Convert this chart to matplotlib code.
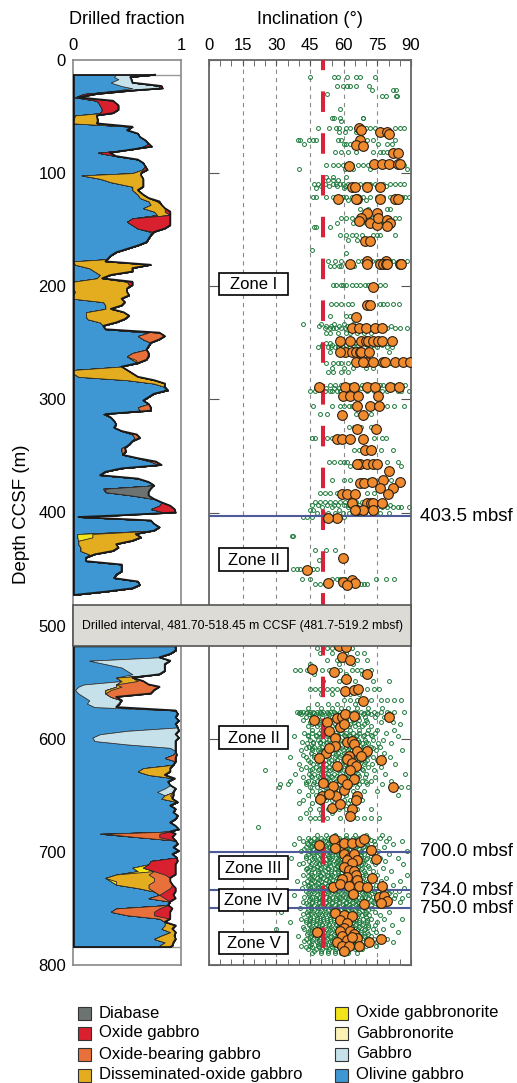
import matplotlib
matplotlib.use("Agg")
import matplotlib.pyplot as plt
from matplotlib.patches import Rectangle
import numpy as np

plt.rcParams['font.family'] = ['Liberation Sans', 'DejaVu Sans']
plt.rcParams['lines.scale_dashes'] = False

# ---------------- Lithology drilled fractions (depth m CCSF -> fraction) ----------------
olivine = {13: .40, 15: .38, 17: .42, 20: .35, 23: .45, 25: .55, 27: .40, 30: .10, 33: .02, 36: .22,
           40: .25, 44: .27, 47: .25, 49: .02, 54: 0, 56: 0, 59: .55, 62: .50, 65: .60, 68: .62,
           71: .67, 74: .70, 76.5: .65, 79: .55, 82: .23, 85: .40, 88: .60, 91: .65, 94: .67, 97: .64,
           100: .55, 102: .08, 105: .25, 108: .35, 112: .55, 115: .55, 119: .60, 122: .62, 125: .70,
           128: .72, 131: .65, 134: .75, 137: .78, 140: .55, 143: .50, 146: .55, 149: .60, 152: .72,
           155: .72, 158: .70, 161: .68, 164: .60, 167: .50, 170: .40, 173: .35, 176: .32, 178: 0,
           181: .02, 184: .15, 187: .20, 190: .25, 193: .22, 196: 0, 199: 0, 202: 0, 205: .02, 208: 0,
           211: 0, 214: .28, 217: .30, 220: .30, 223: .12, 226: .12, 229: .13, 232: .25, 235: .28,
           238: .30, 241: .70, 244: .60, 247: .65, 250: .72, 253: .70, 256: .68, 259: .55, 262: .50,
           265: .55, 268: .60, 271: .45, 274: 0, 277: 0, 280: .05, 283: .50, 286: .75, 289: .85,
           292: .85, 295: .75, 298: .70, 301: .65, 304: .70, 307: .60, 310: .62, 313: .28, 316: .35,
           319: .38, 322: .40, 325: .38, 328: .45, 331: .55, 334: .57, 337: .55, 340: .52, 343: .45,
           346: .45, 349: .46, 352: .60, 355: .72, 358: .80, 361: .45, 364: .30, 367: .25, 370: .60,
           373: .70, 376: .75, 379: .28, 382: .30, 385: .55, 388: .75, 391: .82, 394: .80, 397: .72,
           400: .85, 402.5: .40, 404: .05, 407: .72, 410: .75, 413: .80, 416: .75, 419: .04, 422: .04,
           425: .05, 428: .05, 431: .07, 434: .07, 437: .15, 440: .12, 443: .12, 446: .45, 449: .45,
           452: .45, 455: .40, 458: .38, 461: .60, 464: .62, 467: .55, 470: .30, 473: 0,
           518.45: .95, 522: .95, 525: .90, 528: .80, 531: .15, 534: .30, 537: .45, 540: .50, 543: .55,
           546: .40, 549: .45, 552: .10, 554: .05, 557: .02, 560: .05, 563: .10, 566: .15, 569: .13,
           572: .20, 575: .95, 578: .97, 581: .95, 584: .98, 587: .95, 590: .97, 593: .50, 596: .25,
           599: .18, 602: .20, 605: .50, 608: .90, 611: .95, 614: .93, 617: .85, 620: .95, 623: .93,
           626: .65, 629: .60, 632: .70, 635: .94, 638: .88, 641: .90, 644: .85, 647: .78, 650: .85,
           653: .82, 656: .97, 659: .90, 662: .95, 665: .93, 668: .97, 671: .95, 674: .90, 677: .95,
           680: .98, 682: .90, 684: .25, 687: .60, 690: .95, 693: .97, 696: .93, 699: .98, 702: .92,
           705: .96, 708: .72, 711: .70, 714: .55, 717: .60, 720: .40, 723: .30, 726: .35, 729: .40,
           732: .60, 735: .75, 738: .80, 741: .70, 744: .90, 747: .88, 750: .40, 753: .35, 756: .50,
           759: .80, 762: .85, 765: .85, 768: .82, 771: .90, 774: .82, 777: .75, 780: .85, 783: .80,
           784: .80}
gabbro = {13: .36, 15: .15, 17: .12, 20: .20, 23: .35, 25: .25, 27: .05,
          531: .75, 534: .55, 537: .40, 540: .35, 543: .25, 552: .30, 554: .35, 557: .28, 560: .25,
          563: .25, 566: .30, 569: .30, 572: .20, 593: .48, 596: .70, 599: .80, 602: .75, 605: .45,
          608: .05, 644: .10, 647: .15}
oxide_gabbronorite = {419: .14, 422: .14, 714: .10, 717: .15, 726: .05}
disseminated = {49: .20, 54: .23, 56: .22, 100: .08, 102: .55, 105: .40, 108: .30, 112: .10, 115: .05,
                119: .05, 122: .08, 125: .08, 128: .10, 131: .20, 134: .10, 137: .12, 152: .03, 178: .30,
                181: .70, 184: .40, 187: .35, 190: .10, 193: .05, 196: .50, 199: .52, 202: .50, 205: .48,
                208: .52, 211: .45, 214: .20, 217: .15, 220: .05, 223: .35, 226: .40, 229: .35, 232: .15,
                265: .03, 274: .50, 277: .55, 280: .55, 283: .25, 286: .10, 292: .03, 419: .40, 422: .45,
                425: .50, 428: .35, 431: .35, 434: .30, 437: .05,
                546: .15, 549: .15, 554: .05, 557: .05, 626: .25, 629: .30, 632: .15, 650: .05, 653: .10,
                684: .05, 720: .30, 723: .45, 726: .35, 729: .30, 732: .10, 765: .10, 768: .10, 771: .05,
                774: .12, 777: .20, 780: .08, 783: .12, 784: .10}
oxide_bearing = {241: .10, 244: .25, 247: .15, 259: .15, 262: .20, 265: .10, 307: .12, 310: .10, 331: .04,
                 334: .05, 343: .03, 346: .04, 355: .05, 379: .02,
                 549: .05, 552: .30, 554: .35, 557: .40, 560: .42, 563: .05, 614: .03, 617: .10, 650: .03,
                 684: .50, 687: .20, 720: .15, 723: .15, 726: .15, 729: .22, 732: .20, 735: .10, 741: .15,
                 750: .40, 753: .40, 756: .25, 759: .10}
oxide_gabbro = {23: .02, 25: .03, 27: .10, 30: .12, 33: .03, 36: .15, 40: .17, 44: .15, 47: .12, 76.5: .08,
                82: .11, 97: .05, 125: .02, 134: .05, 140: .35, 143: .40, 146: .35, 149: .25, 196: .05,
                199: .03, 313: .02, 394: .10, 397: .22, 400: .10, 402.5: .03,
                684: .15, 687: .12, 708: .25, 711: .25, 714: .30, 717: .20, 720: .10, 732: .05, 735: .10,
                738: .13, 741: .10, 750: .12, 753: .15, 756: .15}
diabase = {358: .02, 379: .42, 382: .40, 385: .15}
gabbronorite = {}

hole_segments = [(13, 473), (518.45, 784)]

# ---------------- Paleomagnetic inclinations ----------------
green_row_depth = [15, 23, 26.5, 30, 32, 43, 51, 54, 60, 64, 71, 74, 81, 93, 96, 103, 106, 110, 111.5, 113, 121,
                   124, 132, 140, 144, 148, 155, 159, 168, 171, 178, 182, 199, 216, 226, 233, 235, 237, 241,
                   250, 252, 254, 258, 268, 272, 276, 287, 290, 293, 306, 313, 324, 334, 345, 355, 359, 371,
                   383, 391, 393, 395, 398, 400, 404, 421, 433, 442, 450, 459, 463,
                   520, 524, 530, 534, 539, 543, 549, 556, 560, 566, 569, 573, 576, 577.5, 578, 581, 583, 585,
                   587, 589, 592, 595, 596.5, 598, 601, 602.5, 604, 607, 608.5, 610, 613, 614.5, 616, 619,
                   620.5, 622, 625, 626.5, 628, 631, 632.5, 634, 637, 638.5, 640, 643, 646,
                   650, 654, 657, 662, 666, 670, 678, 685, 688, 689.5, 690, 692, 693, 694.5, 696, 697.5, 699,
                   700.5, 702, 703.5, 705, 706.5, 708, 709.5, 711, 712.5, 714, 715.5, 717, 718.5, 720, 721.5,
                   723, 724.5, 726, 727.5, 729, 730.5, 732, 733.5, 735, 736.5, 738, 739.5, 741, 742.5, 744,
                   745.5, 747, 748.5, 750, 751.5, 753, 754.5, 756, 757.5, 759, 760.5, 762, 763.5, 765, 766.5,
                   768, 769.5, 771, 772.5, 774, 775.5, 777, 778.5, 780, 781.5, 783, 784.5, 786, 787.5, 789]
green_row_incl = [
    [45, 55.5, 57.5, 61.5, 65.7, 67.2, 73.8], [57, 59.7, 61.5, 62.7, 65.3, 71.3], [72.8, 82.2, 83.3], [52.5],
    [77.3, 78.8, 83.3, 83.7], [58.5], [55.5, 68.7, 54.8, 58.2, 68.4], [59],
    [48.5, 53.4, 56.4, 57.9, 61.2, 62.7, 69.9, 71.7, 73.9, 83, 85.2, 86.7], [65.4, 58, 60.5],
    [39.5, 40.5, 44.7, 46.2, 47.7, 57.5, 59, 70.5, 73.2, 83], [42.5, 60, 61.2, 63, 75.5, 79.2, 81.5],
    [56, 59, 62, 65.7, 73.2, 76.2, 77.7, 79.2, 85.2],
    [52.2, 55.2, 57.5, 59.7, 61.2, 63.5, 66.5, 68.7, 71, 75.5, 79.2, 83.7, 86.7], [39.9, 71.7, 88.2, 60.5, 64],
    [52.2, 55.2, 61.2], [57.5, 55.2, 53],
    [47, 48.5, 51.5, 55.2, 56.7, 58.2, 59.7, 62, 67.2, 69.5, 71.7, 73.9, 77.7, 80.7, 83, 85.2, 86.7],
    [50, 53.5, 57, 60.5, 64, 66, 70.5, 75, 79],
    [47.7, 65.7, 60, 64],
    [46.2, 47.7, 52.2, 55.2, 59.7, 61.2, 63.5, 68.7, 71.7, 74.7, 77.7, 80.7, 86, 87.5, 89], [58, 62, 66, 70],
    [67.2, 71, 79.2, 80.7], [59, 61.2, 63.5, 66.5, 68.7, 73.2, 75.5, 76.2, 80, 83, 84.5], [57, 64, 70, 78],
    [47, 47.7, 53.7], [58.2, 61.2, 63.5, 65.7, 68, 73.2, 74.7, 76.2, 83], [62, 66, 70], [45.9], [61.2],
    [53, 56, 59, 66.5, 68, 72.5, 74.7, 80.7, 82.2, 86, 88.2], [54, 55.5, 57.8, 59, 62, 64.5, 70],
    [55.2, 56.7, 59, 59.7, 61.2, 63.5, 65.7, 67.2, 69.5, 71, 76.2, 78.5],
    [54.5, 56.7, 59, 62, 63.5, 76.2, 77.7, 79.2, 82.2, 84.5], [53.7, 61.2, 62.7], [41.7, 50, 55.9, 60, 64],
    [49, 52, 54.5, 58, 61.5, 64, 67.5, 70, 74, 77.5, 81],
    [51.5, 53.7, 55.2, 56.7, 59, 60.5, 62.7, 65.7, 68.7, 71, 73.2, 76.2, 79.2, 83, 85.2, 88.2],
    [52.2, 53.7, 57.5, 61, 63, 66, 69, 72], [52.2, 53.7, 65, 67.2, 69.5],
    [50.5, 55, 58.5, 61, 64, 66.5, 70.5, 73.5, 77],
    [48.5, 53, 54.5, 56, 57.5, 59.7, 62.7, 71.7, 74.7, 79.2, 81.5], [53.7, 59, 61.2, 68.7, 80.4, 64, 66],
    [52.2, 55.2, 57.5, 59, 62, 67.2, 70.2, 75.5, 80.7, 85.2, 88.2], [55, 60, 64, 70, 73], [53, 55.2, 59, 62],
    [50, 53.7, 56, 59, 62.7, 65.7, 68, 71.7, 76.2, 77.7, 82.2, 87.5],
    [47.5, 52, 55.5, 58, 61, 64, 67.5, 69.5, 72, 75.5, 80.5, 83],
    [45, 47.3, 50.3, 51.8, 54, 54.8, 57, 58.5, 62.3, 66, 70.5, 73.5, 77.3, 79.5, 84, 85.5, 89.3],
    [46.5, 54.8, 58.5, 60, 62.3, 63.8, 77.3, 79.5, 82.5, 87], [49.5, 52.5, 65.3, 67.5, 72], [62.3, 64.5, 67.5, 72],
    [45.8, 47.3, 52.5, 54.8, 56.3, 73.5, 77.3, 78.8], [64.5, 66.8, 70.5, 73.5, 76.5, 81.8],
    [53.3, 55.5, 58.5, 61.5, 79.5, 84, 60], [66, 85.5, 63, 70],
    [54.8, 60, 63, 68.3, 71.3, 73.5, 76.5, 81, 85.5], [49.5, 51.8, 54, 57, 61.5, 66, 70.5, 73.5, 78.8],
    [47.3, 49.5, 51.8, 54, 56.3, 58.5, 60.8, 63, 65.3, 68.3, 70.5, 72.8],
    [46, 48.5, 52.5, 55.5, 57.5, 60, 62, 64, 67, 69.5, 71.5, 74, 76.5, 78.5, 80.5],
    [75, 77.3, 79.5, 81.8, 84, 85.5, 89.3, 50.3, 54.8, 62, 66, 69], [45, 46.5, 58, 64, 71, 74],
    [48, 51, 53, 56, 59.5, 62.5, 67, 69.5, 72.5, 76, 80],
    [42, 43.5, 45.8, 55, 60], [36.8, 37.5], [47.3, 52.2, 56.3], [48.8], [37.5, 39, 40.5, 45, 46.5, 48],
    [41.3, 45, 54.8, 57, 58.5, 60.8, 74.3, 78.8, 82.5], [47.3, 49.5, 51.8, 64.5, 66, 67.5, 69, 70.5, 62],
    # lower hole
    [48, 52.5, 54.8, 57, 60, 63.8], [49.5, 66, 69, 55, 61], [57, 61.5, 66, 52.5, 70.5, 63], [45, 58, 64],
    [38.3, 40.5, 43.5, 45.8, 50.3, 53.3, 55.5, 58.5, 63.8, 66, 67.5, 72], [47, 56, 61, 68],
    [51, 58, 62, 65, 73, 80], [45, 47.3, 49.5, 52.5, 54.8, 57, 73.5, 75.8, 70.5], [50, 55, 60, 63, 67],
    [60, 63, 66, 69, 72, 76.5, 79.5, 82.5, 85.5], [48, 53, 57, 65], [44, 50, 55, 59, 62, 66, 71, 77],
    [39, 40.5, 42, 43.5, 45, 46.5, 48, 49.5, 51, 52.5, 54, 55.5, 58.5, 61.5, 64.5, 67.5, 70.5, 73.5, 76.5, 79.5, 82.5, 87],
    [40, 43, 47, 50, 53, 56, 60, 63, 66, 69, 71, 80],
    [41, 44.5, 47.5, 50.5, 53.5, 56.5, 59.5, 62.5, 65.5, 68.5, 72, 75],
    [43, 46, 48.5, 52, 55, 57.5, 60.5, 63.5, 66.5, 69.5, 74, 78],
    [42, 45.5, 49, 51.5, 54.5, 58, 61, 64, 67, 70],
    [45, 47.3, 49.5, 53.3, 58.5, 64.5, 70.5, 76.5, 81.8],
    [46, 49, 52.5, 56, 59.5, 63, 66.5, 69, 85],
    [44, 48, 51.5, 55, 57, 60, 62.5, 65, 68, 72],
    [82.5, 46, 50, 54, 59, 63, 67, 71, 75],
    [42.5, 46, 49, 51.5, 54, 56.5, 59, 61, 64, 67, 70.5, 74, 79],
    [44, 47.5, 50.5, 53, 57.5, 60, 62.5, 66, 69, 72],
    [38, 44, 47.5, 50, 52.5, 55, 57.5, 60.5, 63, 65.5, 68.5, 72.5, 84],
    [45, 48.5, 51, 53.5, 56, 58.5, 61.5, 64, 66.5, 69.5, 73, 77.5],
    [41.5, 46.5, 49.5, 52.5, 55.5, 58, 61, 63.5, 67, 70],
    [33, 43.5, 46.5, 49.5, 52, 54.5, 57, 60, 62.5, 65, 68, 71, 75.5, 81],
    [44.5, 47, 50.5, 53, 55.5, 58, 61, 63.5, 66, 69, 72, 76],
    [43, 46, 49, 52, 55, 59, 62.5, 65, 68, 73],
    [41, 46, 48.5, 51, 54, 56.5, 59.5, 62, 64.5, 67.5, 70, 74.5, 86],
    [45.5, 49, 52.5, 55, 57.5, 60, 63, 65.5, 68, 71.5, 78],
    [42, 47, 50, 53, 56.5, 59, 62, 64, 67, 71],
    [36, 43, 47, 50, 53.5, 56, 58.5, 61.5, 64, 66.5, 69.5, 73, 80.5],
    [44, 48, 51.5, 54.5, 57, 59.5, 62.5, 65, 67.5, 70.5, 75],
    [45, 48.5, 51, 53.5, 56, 60, 63, 66.5, 69.5],
    [40, 46.5, 49.5, 52, 55, 58, 60.5, 63.5, 66, 69, 72.5, 83],
    [43, 47.5, 50.5, 53.5, 56.5, 59, 61.5, 64.5, 67, 71, 76.5],
    [41, 46, 49, 52, 55, 58.5, 62, 64.5, 68],
    [24.8, 45, 48.5, 51.5, 54, 57.5, 60, 62.5, 65.5, 68.5, 73.5],
    [38.5, 44.5, 47, 50, 53, 55.5, 58.5, 61, 64, 66.5, 70, 78.5, 87.5],
    [45.5, 48.5, 52, 54.5, 57, 60, 63.5, 67],
    [42, 46, 49.5, 52.5, 55, 58, 60.5, 63, 66, 69.5, 74],
    [36, 44, 48, 51, 54, 56.5, 59.5, 62, 65, 68, 72, 81],
    [43, 47, 50.5, 53, 56, 59, 62, 65.5, 70],
    [31.5, 35.3, 43, 46.5, 50, 52.5, 55.5, 58, 61, 63.5, 67, 70.5, 77],
    [31.2, 45, 48, 51.5, 54.5, 57, 60, 62.5, 66, 85.5, 88.5],
    [40, 46, 49.5, 52, 56, 59, 64, 69, 75], [44, 47.5, 50.5, 54, 57.5, 61, 65, 84],
    [42, 48, 52, 55, 60, 63, 68], [40.2, 46, 50, 57, 62], [45, 49, 53, 58, 61, 66, 72], [43, 50, 55, 63],
    [40.5, 45, 47.3, 48.8, 52.5, 58.5, 66, 69, 72, 75.8], [21.8], [48, 52, 56, 61, 65, 70, 77],
    [40, 44, 47, 50, 53, 55.5, 58, 61, 64, 67, 71, 76, 80],
    [45, 48, 51, 53.5, 56, 59, 62, 65, 68, 72],
    [42, 45.5, 48.5, 51.5, 54.5, 57.5, 60.5, 63.5, 66.5, 69.5, 73.5, 79, 86],
    [43.5, 47, 50, 53, 55.5, 58, 61, 63.5, 66, 70],
    [38, 44, 46.5, 49.5, 52.5, 55, 58.5, 61.5, 64.5, 67, 70.5, 74, 82],
    [46, 49.5, 52, 55, 57.5, 60, 63, 66, 69],
    [43, 45.5, 48, 51, 54, 56.5, 59.5, 62, 65, 68.5, 72, 78],
    [42.5, 46.5, 49, 52.5, 55.5, 58, 61, 64, 67, 71],
    [41, 44.5, 47.5, 50, 53, 56, 58.5, 61.5, 64, 67.5, 71, 75.5, 88],
    [45.5, 48, 51, 54, 56.5, 59.5, 62, 65, 68],
    [44, 46.5, 49.5, 52.5, 55, 57.5, 60.5, 63, 66, 69, 73, 80],
    [43, 47, 50, 53, 55, 58, 61.5, 64.5, 67.5, 72],
    [36.5, 43, 47, 50.5, 53.5, 56.5, 59, 62, 64.5, 67.5, 70.5, 76, 84],
    [46, 49, 52, 54.5, 57.5, 60.5, 63, 66, 70],
    [44.5, 48, 51, 54, 57, 59.5, 62.5, 65.5, 68, 72.5, 78.5],
    [42, 47.5, 50.5, 53.5, 56.5, 59, 62, 65, 68.5],
    [40, 45.5, 49, 52, 55.5, 58, 61, 63.5, 66.5, 69.5, 74, 86.5],
    [45, 48, 51.5, 54, 57, 60, 63.5, 66.5, 71],
    [31, 43.5, 47, 50, 53, 56, 59, 62, 65, 68, 71.5, 77.5],
    [43, 46.5, 49.5, 53, 56, 58.5, 61.5, 64.5, 67.5],
    [44, 48.5, 51.5, 54.5, 57.5, 60, 63, 66, 69, 73, 81],
    [45.5, 48.5, 51, 54.5, 57.5, 60.5, 63, 66, 69.5],
    [42, 46, 49.5, 52.5, 55, 58, 61, 64, 67, 70, 75, 88],
    [44, 47, 50, 53, 55.5, 58.5, 62, 65, 68, 73],
    [45, 48, 51, 54, 57, 59.5, 62.5, 65.5, 68.5, 72, 79],
    [46, 49, 52, 55, 58, 61, 64, 67],
    [39, 43.5, 47, 50, 53.5, 56.5, 59, 62, 65, 68, 71, 76.5, 85],
    [42.5, 45.5, 48.5, 51.5, 54.5, 57.5, 60, 63, 66, 69.5],
    [44.5, 47.5, 50.5, 53, 56, 58.5, 61.5, 64.5, 67.5, 70.5, 74.5, 82],
    [44, 47, 50, 53, 56, 59, 62, 65, 68, 71, 76],
    [41.5, 45, 48.5, 51.5, 54.5, 57.5, 60.5, 63, 66, 69, 72.5, 78, 87],
    [45.5, 48.5, 51.5, 54, 57, 60, 63, 66, 69, 72, 79],
    [43, 46.5, 49.5, 52.5, 55.5, 58, 61, 64, 67, 70, 73.5, 77, 81, 84.5],
    [44, 47, 50, 53, 56, 59, 62, 65, 68, 71, 74, 80],
    [38, 44.5, 48, 51, 54, 57, 59.5, 62.5, 65.5, 68.5, 71.5, 75, 79, 83, 88.5],
    [42.5, 46, 49, 52, 55, 58, 60.5, 63.5, 66.5, 69.5, 73, 77],
    [45, 47.5, 50.5, 53.5, 56.5, 59, 62, 65, 68, 71, 74.5, 78.5, 82.5, 86],
    [44.5, 47.5, 50.5, 53.5, 56.5, 59.5, 62.5, 65.5, 68.5, 72, 75.5],
    [42, 46, 49, 52, 55, 58, 61, 63.5, 66.5, 69.5, 73, 76.5, 80, 85],
    [43, 46, 49, 52, 55, 58, 61, 64, 67, 70, 74, 78],
    [44, 47, 50, 53, 56, 59.5, 62.5, 65.5, 68.5, 72, 75.5, 79],
    [45, 48, 51, 54, 57, 60, 63, 66, 69],
    [40.5, 45.5, 48.5, 51.5, 54.5, 57, 60, 63, 66, 69, 72.5],
    [44, 47, 50, 53, 56, 59, 62, 65, 68, 71],
    [32, 43.5, 46.5, 49.5, 52, 55, 58, 61, 64, 67, 70, 74, 80],
    [42, 45.5, 48.5, 51.5, 54.5, 57.5, 60.5, 63.5, 66.5, 69.5],
    [44, 47.5, 50.5, 53.5, 56, 59, 62, 65, 68, 71.5, 76],
    [45, 48, 51, 54, 57, 60, 63, 66, 70],
    [41, 45, 48, 51, 54, 57, 59.5, 62.5, 65.5, 68.5, 72, 78, 86],
    [43, 46.5, 49.5, 52.5, 55.5, 58.5, 61, 64, 67, 70.5],
    [36, 43, 46.5, 49.5, 52.5, 55.5, 58.5, 61.5, 64, 67, 70.5, 75],
    [44.5, 47.5, 50.5, 53.5, 56.5, 59.5, 62.5, 65.5, 68.5],
    [44.5, 47.5, 50.5, 53.5, 56.5, 59, 62, 65, 68, 71, 74, 81.5],
    [42, 45.5, 48.5, 51.5, 54.5, 57.5, 60.5, 63.5, 67, 71],
    [30, 42.5, 46, 49, 52, 55, 57.5, 60.5, 63.5, 66.5, 69.5, 73, 77.5],
    [45, 48, 51, 54, 57, 60, 63, 66, 69],
    [44, 47, 50, 53, 56, 59, 62, 64.5, 67.5, 70.5, 74.5, 84],
    [43.5, 46.5, 49.5, 52.5, 55.5, 58.5, 61.5, 64.5, 67.5, 71],
    [39.5, 45.5, 48.5, 51.5, 54.5, 57.5, 60.5, 63, 66, 69, 72, 76],
    [45, 48, 51, 54, 57, 60, 63, 66, 69.5],
    [33.5, 43, 46.5, 49.5, 52.5, 55.5, 58, 61, 64, 67, 70, 73.5, 79.5],
    [42.5, 46, 49, 52, 55, 58, 61, 64, 67, 70.5],
    [44.5, 48, 51, 54, 57, 60, 62.5, 65.5, 68.5, 71.5, 75, 82],
    [45.5, 48.5, 51.5, 54.5, 57.5, 60.5, 63.5, 66.5],
    [41, 45, 48.5, 51.5, 54.5, 57.5, 60.5, 63.5, 66.5, 70, 74.5],
    [43, 46, 49, 52, 55, 58, 61, 64],
    [44, 47.5, 50.5, 53.5, 56.5, 59, 62, 65, 68],
    [47, 50, 53, 56, 59, 62],
    [46, 50, 53, 56, 59, 62, 66]]

orange_depth = [60, 62, 64, 64, 65, 71, 75, 76, 82, 82, 94, 92, 92, 92, 92, 92, 112, 112, 112, 112,
                123, 123, 123, 123, 123, 123, 135, 135, 140, 142, 144, 146, 140, 141, 144, 147, 160, 160,
                178, 178, 180, 180, 180, 180, 180, 180, 180, 180, 201, 217, 217, 227, 237, 237, 237, 237, 237,
                248, 248, 248, 248, 248, 248, 248, 248, 248, 258, 258, 258, 258, 258, 258, 258,
                267, 267, 267, 267, 267, 267, 267, 267, 267, 289, 289, 289, 289, 289, 289, 289,
                297, 297, 297, 297, 306, 306, 306, 314, 314, 326, 326, 335, 335, 335, 335, 345, 345,
                357, 357, 357, 357, 357, 357, 363, 371, 373, 374, 374, 373, 378, 378, 384, 384, 384, 384,
                392, 392, 392, 392, 392, 398, 398, 398, 398, 405, 405, 440, 451, 462, 461, 460, 462, 464,
                518, 519, 528, 530, 538, 541, 547, 543, 558, 557, 556, 567, 583, 585, 582, 581, 578, 580,
                590, 587, 581, 593, 599, 606, 613, 617, 608, 603, 602, 605, 611, 611, 615, 615, 624, 619,
                618, 621, 624, 628, 636, 636, 639, 642, 645, 651, 651, 651, 643, 649, 653, 661, 658, 662,
                654, 640, 668, 694, 689, 695, 692, 692, 691, 689, 698, 697, 702, 705, 702, 707, 707, 706,
                710, 713, 716, 717, 720, 722, 724, 725, 723, 731, 728, 730, 730, 731, 730, 737, 746, 740,
                739, 743, 745, 754, 756, 757, 760, 763, 767, 770, 770, 773, 771, 774, 778, 776, 780, 783,
                783, 783, 780, 777, 788, 775]
orange_incl = [66.9, 67.7, 76.2, 79.5, 80.4, 67.2, 65.4, 68.4, 81.9, 84, 62.4, 73.5, 77, 80, 84, 85.2, 63.9,
               64.9, 70.2, 76.2, 57.5, 66, 65.7, 76.2, 83, 84, 70.5, 74.7, 67.7, 66.9, 71.7, 74.7, 75.5,
               79.2, 80.7, 79.5, 69.5, 71.7, 70.2, 78.9, 62.7, 70.5, 76.2, 77.7, 78.9, 79.5, 84.9, 85.5, 73.2,
               70.5, 71.7, 65.7, 63.5, 66.8, 69.9, 73.9, 76.9, 63, 67.9, 69.9, 70.9, 73.2, 75.5, 81.5, 77,
               58.2, 60.4, 58.2, 63.5, 65.7, 67.2, 67.9, 71.4, 65.7, 69.9, 68.7, 73.2, 77.7, 78.5, 83, 86.4,
               89.7, 60.4, 64.5, 70.5, 73.9, 80.7, 84.5, 49.2, 59.8, 62.9, 66.4, 75.3, 66, 71.7, 75.8, 59.3,
               68.6, 66, 74.4, 57, 59.3, 62.9, 68.6, 69.5, 72.2, 66.4, 67.3, 70.4, 73.1, 74.9, 66, 80.2,
               77.5, 85.1, 67.3, 69.1, 72.6, 76.2, 82, 79.8, 59.3, 61.5, 65.1, 63.7, 70.4, 72.2, 73.1, 77.1,
               66, 68.6, 73.1, 65.1, 57, 53, 59.7, 43.6, 53, 59.7, 63.7, 65, 61.5,
               57.8, 61.2, 59.3, 63, 45.8, 55.5, 61, 70.5, 60.8, 64.5, 66.3, 68.6, 47, 52.5, 57, 59.3, 60.8,
               64.5, 58.2, 60, 80.3, 53.3, 56, 56.3, 52.2, 49.2, 53.3, 61.5, 63.8, 64.5, 66, 70.5, 67.5,
               62.3, 57, 76.5, 61.5, 63.8, 65.3, 63, 59.3, 64.5, 51, 55.2, 60, 66, 56.7, 50.3, 81.8, 53.3,
               49.5, 54.8, 58.5, 63.8, 65.3, 61.5, 62.7, 48.8, 55.5, 58.5, 60, 63.8, 67.2, 69, 72, 56.3, 60,
               62.3, 64.5, 66, 61.5, 74.3, 63.8, 60, 62.3, 64.5, 65.3, 61.5, 59.3, 66, 72.8, 55.2, 58.5,
               62.3, 66.8, 70.5, 77.3, 64.2, 69, 75.8, 78, 79.5, 76.5, 56.3, 60, 63.8, 58.5, 61.5, 60, 58.2,
               63, 64.5, 48, 59.3, 61.5, 66, 57, 59.3, 62.3, 66.8, 71.3, 76.5, 60, 63.8]

mean_inclination = 50.8
boundary_depths = [403.5, 700.0, 734.0, 750.0]
boundary_labels = ["403.5 mbsf", "700.0 mbsf", "734.0 mbsf", "750.0 mbsf"]
zone_names = ["Zone I", "Zone II", "Zone II", "Zone III", "Zone IV", "Zone V"]
zone_depths = [198, 441.5, 599, 714, 742.5, 780.5]
gap_top, gap_bottom = 481.70, 518.45
gap_text = "Drilled interval, 481.70-518.45 m CCSF (481.7-519.2 mbsf)"

lith_names = ["Olivine gabbro", "Gabbro", "Oxide gabbronorite", "Disseminated-oxide gabbro",
              "Oxide-bearing gabbro", "Oxide gabbro", "Diabase", "Gabbronorite"]
lith_data = [olivine, gabbro, oxide_gabbronorite, disseminated, oxide_bearing, oxide_gabbro, diabase, gabbronorite]
lith_colors = {"Diabase": "#6d7371", "Oxide gabbro": "#d8202f", "Oxide-bearing gabbro": "#e8703a",
               "Disseminated-oxide gabbro": "#e3ad1f", "Oxide gabbronorite": "#f2e31b",
               "Gabbronorite": "#fbf3b6", "Gabbro": "#c6e1e9", "Olivine gabbro": "#3e96d2"}
legend_col1 = ["Diabase", "Oxide gabbro", "Oxide-bearing gabbro", "Disseminated-oxide gabbro"]
legend_col2 = ["Oxide gabbronorite", "Gabbronorite", "Gabbro", "Olivine gabbro"]

# ---------------- Figure ----------------
W, H = 517, 1083
fig = plt.figure(figsize=(W / 100, H / 100), dpi=100)

def fx(px):
    return px / W

def fy(py):
    return 1 - py / H

ax_top, ax_bot = 60, 965
ax1 = fig.add_axes([fx(73), fy(ax_bot), fx(181) - fx(73), (ax_bot - ax_top) / H])
ax2 = fig.add_axes([fx(209), fy(ax_bot), fx(411) - fx(209), (ax_bot - ax_top) / H])

# ---- left panel: stacked fractions ----
all_depths = sorted(set().union(*[set(d.keys()) for d in lith_data]))
for (d0, d1) in hole_segments:
    dep = np.array([d for d in all_depths if d0 <= d <= d1])
    cum = np.zeros(len(dep))
    for name, data in zip(lith_names, lith_data):
        vals = np.array([data.get(d, 0.0) for d in dep])
        if vals.sum() > 0:
            ax1.fill_betweenx(dep, cum, cum + vals, facecolor=lith_colors[name],
                              edgecolor='#2a2a2a', linewidth=0.5, zorder=2)
        cum = cum + vals
    ax1.plot(cum, dep, color='#1a1a1a', lw=1.3, zorder=3)
    ax1.plot([0, 0], [dep[0], dep[-1]], color='#111', lw=2.6, zorder=4, solid_capstyle='butt')
    ax1.plot([0, cum[0]], [dep[0], dep[0]], color='#1a1a1a', lw=1.3, zorder=3)
    ax1.plot([0, cum[-1]], [dep[-1], dep[-1]], color='#1a1a1a', lw=1.3, zorder=3)
for d in (hole_segments[0][0], hole_segments[-1][1]):
    ax1.axhline(d, color='#999', lw=1.0, zorder=1)

ax1.set_xlim(0, 1)
ax1.set_ylim(800, 0)
ax1.set_xticks([0, 1])
ax1.set_xticklabels(['0', '1'])
ax1.xaxis.tick_top()
ax1.tick_params(axis='x', length=0, pad=5, labelsize=12)
ax1.set_yticks(range(0, 801, 100))
ax1.tick_params(axis='y', length=0, pad=5, labelsize=12)
for s in ax1.spines.values():
    s.set_color('#888')
    s.set_linewidth(1.2)

# ---- right panel: inclinations ----
ax2.set_xlim(0, 90)
ax2.set_ylim(800, 0)
for g in (15, 30, 45, 60, 75):
    ax2.axvline(g, color='#8a8a8a', lw=0.8, ls=(0, (3, 3)), zorder=1)

gd, gi = [], []
for d, row in zip(green_row_depth, green_row_incl):
    gd.extend([d] * len(row))
    gi.extend(row)
ax2.plot(gi, gd, 'o', ms=2.8, mfc='none', mec='#1d7a3c', mew=0.7, zorder=2)

ax2.plot([mean_inclination, mean_inclination], [0, 800], color='#d9223c', lw=2.9,
         ls=(7.5, (14.8, 15.3)), solid_capstyle='butt', dash_capstyle='butt', zorder=3)

for d in boundary_depths:
    ax2.axhline(d, color='#4d5b98', lw=1.5, zorder=3.5)

ax2.plot(orange_incl, orange_depth, 'o', ms=7, mfc='#ef8a2f', mec='#2a1f14', mew=0.8, zorder=4)

for name, d in zip(zone_names, zone_depths):
    ax2.add_patch(Rectangle((4.5, d - 10), 30.7, 20, facecolor='white', edgecolor='black',
                            lw=1.2, zorder=6))
    ax2.text(19.85, d + 0.5, name, ha='center', va='center', fontsize=12, zorder=7)

for d, lab in zip(boundary_depths, boundary_labels):
    ax2.text(1.045, d, lab, transform=ax2.get_yaxis_transform(), ha='left', va='center', fontsize=13.5)

ax2.set_xticks(range(0, 91, 15))
ax2.set_xticks(range(0, 91, 5), minor=True)
ax2.xaxis.tick_top()
ax2.tick_params(axis='x', which='both', direction='in', length=4, top=True, bottom=True,
                color='#555', labelsize=12, pad=5)
ax2.set_yticks(range(0, 801, 100))
ax2.set_yticklabels([])
ax2.tick_params(axis='y', direction='in', length=7, left=True, right=True, color='#555')
for s in ax2.spines.values():
    s.set_color('#666')
    s.set_linewidth(1.3)

# ---- drilled interval gap box ----
gy0 = ax_top + gap_top * (ax_bot - ax_top) / 800
gy1 = ax_top + gap_bottom * (ax_bot - ax_top) / 800
fig.patches.append(Rectangle((fx(73), fy(gy1)), fx(411) - fx(73), (gy1 - gy0) / H,
                             transform=fig.transFigure, facecolor='#dddbd6', edgecolor='#555',
                             lw=1.2, zorder=10))
fig.text(fx(242), fy((gy0 + gy1) / 2), gap_text, ha='center', va='center', fontsize=8.8, zorder=11)

# ---- titles & labels ----
fig.text(fx(127), fy(20), "Drilled fraction", ha='center', va='center', fontsize=13)
fig.text(fx(310), fy(20), "Inclination (°)", ha='center', va='center', fontsize=13)
fig.text(fx(22), fy(514), "Depth CCSF (m)", ha='center', va='center', rotation=90, fontsize=13.5)

# ---- legend ----
rows_y = [1013, 1033, 1054, 1075]
for col, sx, tx in ((legend_col1, 78, 99), (legend_col2, 335, 356)):
    for name, y in zip(col, rows_y):
        fig.patches.append(Rectangle((fx(sx), fy(y + 6.5)), 13 / W, 13 / H, transform=fig.transFigure,
                                     facecolor=lith_colors[name], edgecolor='#333', lw=0.8))
        fig.text(fx(tx), fy(y), name, ha='left', va='center', fontsize=12)

fig.savefig("out.png", dpi=100)
